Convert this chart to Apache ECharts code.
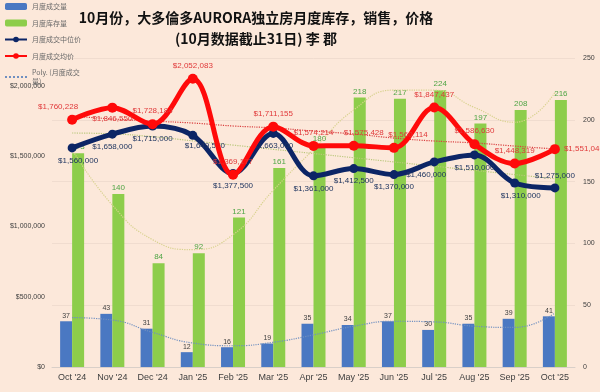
<!DOCTYPE html>
<html><head><meta charset="utf-8">
<script src="https://cdn.jsdelivr.net/npm/echarts@6/dist/echarts.min.js"></script>
<style>html,body{margin:0;padding:0;background:#fce8da;}#c{width:600px;height:392px;}</style>
</head><body><div id="c"></div>
<script>
const categories = ["Oct '24","Nov '24","Dec '24","Jan '25","Feb '25","Mar '25","Apr '25","May '25","Jun '25","Jul '25","Aug '25","Sep '25","Oct '25"];
const sales = [37,43,31,12,16,19,35,34,37,30,35,39,41];
const inventory = [173,140,84,92,121,161,180,218,217,224,197,208,216];
const medianPrice = [1560000,1658000,1715000,1649500,1377500,1663000,1361000,1412500,1370000,1460000,1510000,1310000,1275000];
const avgPrice = [1760228,1846550,1728184,2052083,1369177,1711155,1574214,1575428,1560114,1847437,1586630,1448319,1551046];
// trendline values
const salesTrend = [40,38,28,19.4,17.2,20,26,33,37,36.5,33,32,43.7];
const invTrend = [176,131,103,95,107,143,176,208,224,224,210,198,222];
const avgTrend = [1787000,1766000,1751000,1737000,1716000,1702000,1680000,1659000,1630000,1609000,1595000,1573000,1552000];
const medTrend = [1666000,1660000,1640000,1610000,1580000,1550000,1520000,1490000,1460000,1430000,1400000,1370000,1340000];
const leftTicks = [0,500000,1000000,1500000,2000000];
const rightTicks = [0,50,100,150,200,250];

const FONT = "'Liberation Sans',Arial,sans-serif";
const money = v => '$' + Math.round(v).toLocaleString('en-US');

const redLabel = [
  {position: 'top', offset: [-14, 0]}, {position: 'bottom', offset: [0, -2]}, {position: 'top'}, {position: 'top'},
  {position: 'top'}, {position: 'top'}, {position: 'top'}, {position: 'top', offset: [10, 0]},
  {position: 'top', offset: [14, 0]}, {position: 'top'}, {position: 'top'}, {position: 'top'}, {position: 'right'}
];
const navyLabel = [
  {position: 'bottom', offset: [6, 0]}, {position: 'bottom'}, {position: 'bottom'}, {position: 'bottom', offset: [12, -2]},
  {position: 'bottom'}, {position: 'bottom'}, {position: 'bottom'}, {position: 'bottom'},
  {position: 'bottom'}, {position: 'bottom', offset: [-8, 0]}, {position: 'bottom'}, {position: 'bottom', offset: [6, 0]}, {position: 'top'}
];

const chart = echarts.init(document.getElementById('c'));
chart.setOption({
  backgroundColor: '#fce8da',
  animation: false,
  title: {
    text: '10月份，大多倫多AURORA独立房月度库存，销售，价格\n(10月数据截止31日) 李 郡',
    left: 251, top: 2, textAlign: 'center',
    textStyle: {fontFamily: "'Noto Sans CJK SC',sans-serif", fontSize: 14, fontWeight: 'bold', color: '#111', lineHeight: 21}
  },
  legend: {
    orient: 'vertical', left: 4, top: 2, padding: 0, itemWidth: 22, itemHeight: 7, itemGap: 7.5,
    textStyle: {fontFamily: "'Noto Sans CJK SC',sans-serif", fontSize: 7, color: '#6a6a6a', lineHeight: 9},
    formatter: n => n === 'Poly. (月度成交量)' ? 'Poly. (月度成交\n量)' : n,
    data: ['月度成交量','月度库存量','月度成交中位价','月度成交均价',
      {name: 'Poly. (月度成交量)', itemStyle: {opacity: 0}}]
  },
  grid: {left: 52, right: 25, top: 58, bottom: 25, containLabel: false},
  xAxis: {
    type: 'category', data: categories,
    axisLine: {lineStyle: {color: '#d9cfc8'}}, axisTick: {show: false},
    axisLabel: {interval: 0, fontFamily: FONT, fontSize: 9, color: '#404040', margin: 6}
  },
  yAxis: [
    {type: 'value', min: 0, max: 2200000, interval: 500000, position: 'left',
     splitLine: {show: false}, axisLine: {show: false}, axisTick: {show: false},
     axisLabel: {fontFamily: FONT, fontSize: 7, color: '#404040', margin: 7,
       formatter: v => leftTicks.indexOf(v) >= 0 ? money(v) : ''}},
    {type: 'value', min: 0, max: 250, interval: 50, position: 'right',
     splitLine: {show: true, lineStyle: {color: '#f0dccf', width: 1}}, axisLine: {show: false}, axisTick: {show: false},
     axisLabel: {fontFamily: FONT, fontSize: 7, color: '#404040', margin: 8,
       formatter: v => rightTicks.indexOf(v) >= 0 ? String(v) : ''}}
  ],
  series: [
    {name: '月度成交量', type: 'bar', yAxisIndex: 1, data: sales, barWidth: 12, barGap: '0%',
     itemStyle: {color: '#4a78c2'},
     label: {show: true, position: 'top', distance: 2, fontFamily: FONT, fontSize: 7, color: '#404040'}},
    {name: '月度库存量', type: 'bar', yAxisIndex: 1, data: inventory, barWidth: 12, barGap: '0%',
     itemStyle: {color: '#8dcd4b'},
     label: {show: true, position: 'top', distance: 2, fontFamily: FONT, fontSize: 8, color: '#4fa545'}},
    {name: 'Poly. (月度成交量)', type: 'line', yAxisIndex: 1, data: salesTrend, smooth: 0.5, symbol: 'none', silent: true,
     lineStyle: {color: '#6f8fc0', width: 1.2, type: 'dotted'}, itemStyle: {color: '#6f8fc0'}, z: 3},
    {name: 'invTrend', type: 'line', yAxisIndex: 1, data: invTrend, smooth: 0.5, symbol: 'none', silent: true,
     lineStyle: {color: '#d8d28e', width: 1.2, type: 'dotted'}, z: 3},
    {name: 'medTrend', type: 'line', yAxisIndex: 0, data: medTrend, smooth: 0.5, symbol: 'none', silent: true,
     lineStyle: {color: '#b9c77a', width: 1.2, type: 'dotted'}, z: 3},
    {name: 'avgTrend', type: 'line', yAxisIndex: 0, data: avgTrend, smooth: 0.5, symbol: 'none', silent: true,
     lineStyle: {color: '#d94040', width: 1.2, type: 'dotted'}, z: 3},
    {name: '月度成交中位价', type: 'line', yAxisIndex: 0, smooth: 0.35, symbol: 'circle', symbolSize: 9,
     data: medianPrice.map((v, i) => ({value: v, label: navyLabel[i]})),
     lineStyle: {color: '#0c2566', width: 5}, itemStyle: {color: '#0c2566'},
     label: {show: true, formatter: p => money(p.value), distance: 4, fontFamily: FONT, fontSize: 8, color: '#1f3560'}, z: 5},
    {name: '月度成交均价', type: 'line', yAxisIndex: 0, smooth: 0.35, symbol: 'circle', symbolSize: 10,
     data: avgPrice.map((v, i) => ({value: v, label: redLabel[i]})),
     lineStyle: {color: '#ff0a0a', width: 5}, itemStyle: {color: '#ff0a0a'},
     label: {show: true, formatter: p => money(p.value), distance: 4, fontFamily: FONT, fontSize: 8, color: '#e0393a'}, z: 6}
  ]
});
</script></body></html>
